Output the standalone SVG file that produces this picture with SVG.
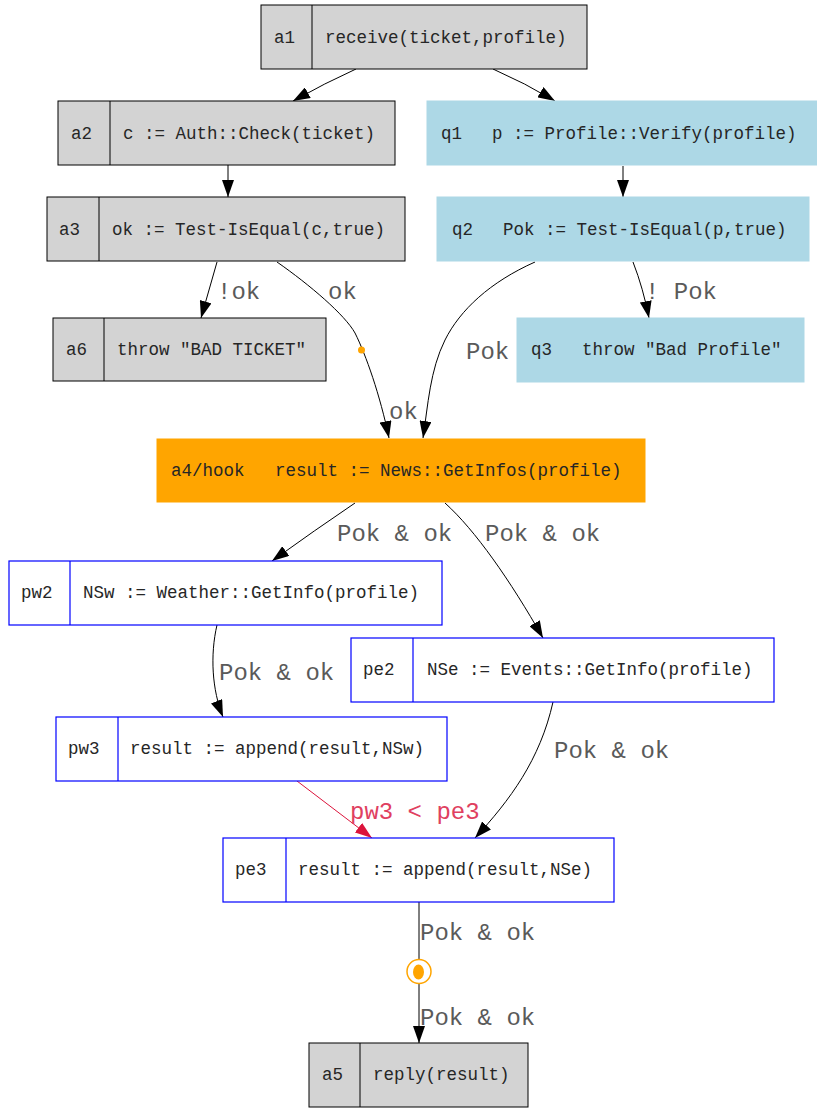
<svg xmlns="http://www.w3.org/2000/svg" width="817" height="1108" viewBox="0 0 817 1108">
<style>
.n{font-family:"Liberation Mono","DejaVu Sans Mono",monospace;font-size:17.5px;fill:#262626}
.l{font-family:"Liberation Mono","DejaVu Sans Mono",monospace;font-size:24px;fill:#5a5a5a}
.gray{fill:#d3d3d3;stroke:#000;stroke-width:1}
.lb{fill:#add8e6;stroke:#add8e6;stroke-width:1}
.or{fill:#ffa500;stroke:#ffa500;stroke-width:1}
.bl{fill:#fff;stroke:#0000ff;stroke-width:1.2}
.gd{stroke:#000;stroke-width:1}
.bd{stroke:#0000ff;stroke-width:1.2}
.e{fill:none;stroke:#000;stroke-width:1}
</style>
<defs>
<marker id="ah" viewBox="0 0 17 12" refX="17" refY="6" markerWidth="17" markerHeight="12" markerUnits="userSpaceOnUse" orient="auto">
<path d="M0,0 L17,6 L0,12 z" fill="#000"/>
</marker>
<marker id="ahr" viewBox="0 0 17 12" refX="17" refY="6" markerWidth="17" markerHeight="12" markerUnits="userSpaceOnUse" orient="auto">
<path d="M0,0 L17,6 L0,12 z" fill="#dc143c"/>
</marker>
</defs>
<g id="edges">
<path class="e" d="M356,69 Q325,83 293,101" marker-end="url(#ah)"/>
<path class="e" d="M493,69 Q525,83 555,101" marker-end="url(#ah)"/>
<path class="e" d="M228,165 L228,197" marker-end="url(#ah)"/>
<path class="e" d="M623,166 L623,197" marker-end="url(#ah)"/>
<path class="e" d="M217,262 Q209,290 201,318" marker-end="url(#ah)"/>
<path class="e" d="M277,262 C310,285 345,315 355,333 C366,355 380,395 389,438" marker-end="url(#ah)"/>
<circle cx="361.5" cy="350" r="3.5" fill="#ffa500"/>
<path class="e" d="M535,262 C490,282 460,310 445,340 C430,370 428,405 423,438" marker-end="url(#ah)"/>
<path class="e" d="M633,262 C640,280 645,298 649,318" marker-end="url(#ah)"/>
<path class="e" d="M355,503 Q315,530 272,561" marker-end="url(#ah)"/>
<path class="e" d="M445,503 C475,530 510,580 543,638" marker-end="url(#ah)"/>
<path class="e" d="M217,625 C210,655 212,690 223,717" marker-end="url(#ah)"/>
<path class="e" d="M553,702 C540,760 510,800 475,838" marker-end="url(#ah)"/>
<path d="M297,781 L372,838" fill="none" stroke="#dc143c" stroke-width="1" marker-end="url(#ahr)"/>
<path class="e" d="M419,902 L419,1043" marker-end="url(#ah)"/>
<circle cx="419" cy="971.5" r="12" fill="#fff" stroke="#ffa500" stroke-width="1.5"/>
<ellipse cx="418.5" cy="972" rx="5.5" ry="7.5" fill="#ffa500"/>
<text class="l" x="217" y="299">!ok</text>
<text class="l" x="328" y="299">ok</text>
<text class="l" x="389" y="419">ok</text>
<text class="l" x="466" y="359">Pok</text>
<text class="l" x="645" y="299">! Pok</text>
<text class="l" x="337" y="541">Pok &amp; ok</text>
<text class="l" x="485" y="541">Pok &amp; ok</text>
<text class="l" x="219" y="680">Pok &amp; ok</text>
<text class="l" x="554" y="758">Pok &amp; ok</text>
<text class="l" x="350" y="819" style="fill:#e0405f">pw3 &lt; pe3</text>
<text class="l" x="420" y="940">Pok &amp; ok</text>
<text class="l" x="420" y="1025">Pok &amp; ok</text>
</g>
<g id="a1">
<rect class="gray" x="261" y="5" width="326" height="64"/>
<line class="gd" x1="312" y1="5" x2="312" y2="69"/>
<text class="n" x="274" y="43">a1</text>
<text class="n" x="325" y="43">receive(ticket,profile)</text>
</g>
<g id="a2">
<rect class="gray" x="58" y="101" width="337" height="64"/>
<line class="gd" x1="110" y1="101" x2="110" y2="165"/>
<text class="n" x="71" y="139">a2</text>
<text class="n" x="123" y="139">c := Auth::Check(ticket)</text>
</g>
<g id="a3">
<rect class="gray" x="47" y="197" width="358" height="64"/>
<line class="gd" x1="99" y1="197" x2="99" y2="261"/>
<text class="n" x="59" y="235">a3</text>
<text class="n" x="112" y="235">ok := Test-IsEqual(c,true)</text>
</g>
<g id="q1">
<rect class="lb" x="427" y="101" width="392" height="64"/>
<text class="n" x="441" y="139">q1</text>
<text class="n" x="492" y="139">p := Profile::Verify(profile)</text>
</g>
<g id="q2">
<rect class="lb" x="437" y="197" width="372" height="64"/>
<text class="n" x="452" y="235">q2</text>
<text class="n" x="503" y="235">Pok := Test-IsEqual(p,true)</text>
</g>
<g id="a6">
<rect class="gray" x="53" y="318" width="273" height="63"/>
<line class="gd" x1="104" y1="318" x2="104" y2="381"/>
<text class="n" x="66" y="355">a6</text>
<text class="n" x="117" y="355">throw "BAD TICKET"</text>
</g>
<g id="q3">
<rect class="lb" x="517" y="318" width="287" height="64"/>
<text class="n" x="531" y="355">q3</text>
<text class="n" x="582" y="355">throw "Bad Profile"</text>
</g>
<g id="a4">
<rect class="or" x="157" y="439" width="488" height="63"/>
<text class="n" x="171" y="476">a4/hook</text>
<text class="n" x="275" y="476">result := News::GetInfos(profile)</text>
</g>
<g id="pw2">
<rect class="bl" x="9" y="561" width="433" height="64"/>
<line class="bd" x1="70" y1="561" x2="70" y2="625"/>
<text class="n" x="21" y="598">pw2</text>
<text class="n" x="83" y="598">NSw := Weather::GetInfo(profile)</text>
</g>
<g id="pe2">
<rect class="bl" x="351" y="638" width="423" height="64"/>
<line class="bd" x1="413" y1="638" x2="413" y2="702"/>
<text class="n" x="363" y="675">pe2</text>
<text class="n" x="427" y="675">NSe := Events::GetInfo(profile)</text>
</g>
<g id="pw3">
<rect class="bl" x="56" y="717" width="391" height="64"/>
<line class="bd" x1="118" y1="717" x2="118" y2="781"/>
<text class="n" x="68" y="754">pw3</text>
<text class="n" x="130" y="754">result := append(result,NSw)</text>
</g>
<g id="pe3">
<rect class="bl" x="223" y="838" width="391" height="64"/>
<line class="bd" x1="286" y1="838" x2="286" y2="902"/>
<text class="n" x="235" y="875">pe3</text>
<text class="n" x="298" y="875">result := append(result,NSe)</text>
</g>
<g id="a5">
<rect class="gray" x="309" y="1043" width="219" height="64"/>
<line class="gd" x1="360" y1="1043" x2="360" y2="1107"/>
<text class="n" x="322" y="1080">a5</text>
<text class="n" x="373" y="1080">reply(result)</text>
</g>
</svg>
